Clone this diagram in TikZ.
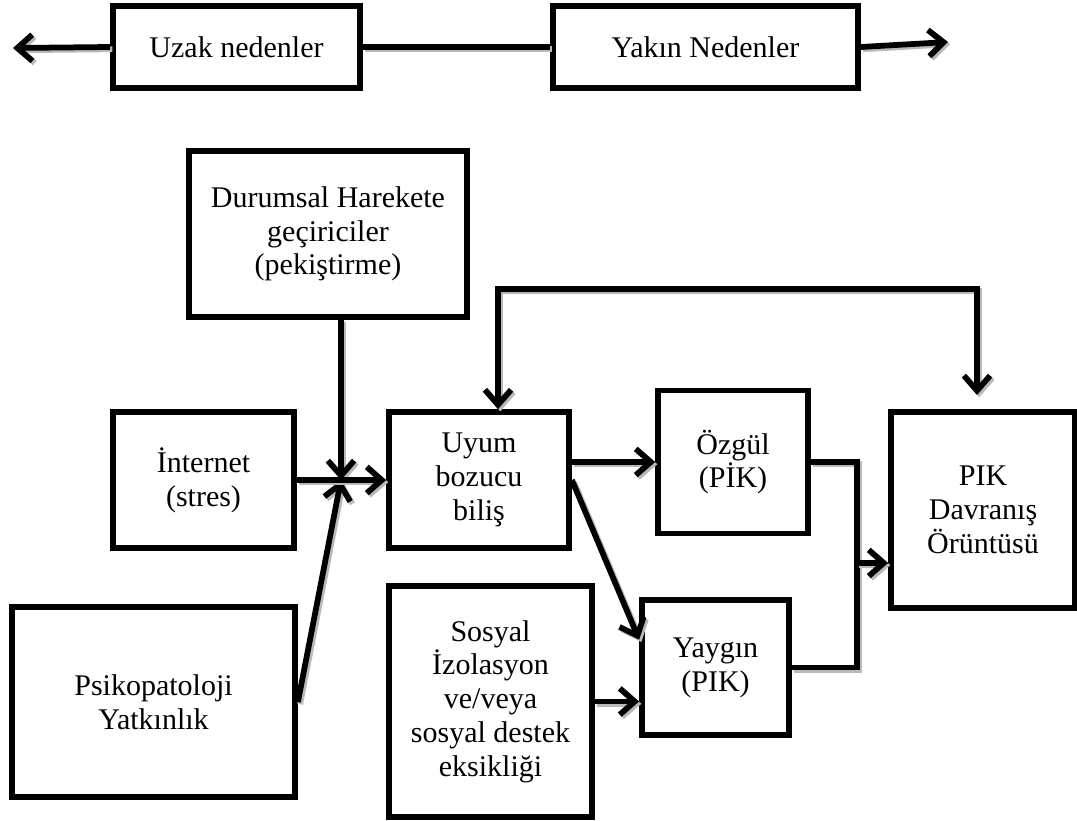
\documentclass[tikz,border=0pt]{standalone}
\usepackage{fontspec}
\setmainfont{Liberation Serif}
\usepackage{tikz}
\usetikzlibrary{arrows.meta,positioning,calc}

\begin{document}
\begin{tikzpicture}[x=0.4pt,y=-0.4pt,font=\fontsize{12pt}{13.5pt}\selectfont,
        >={Straight Barb[length=6pt,width=10.5pt]},
        kutu/.style 2 args={draw,line width=2.3pt,fill=white,align=center,inner sep=1pt,
                  minimum width=#1*0.4pt,minimum height=#2*0.4pt},
        hat/.style={line width=2.3pt,preaction={draw=gray!55,line width=2.3pt,
                  transform canvas={shift={(0.9pt,-0.9pt)}}}},
        ok/.style={hat,->}]
        \useasboundingbox (0,0) rectangle (1077,820);
        % zaman ekseni
        \node[kutu={247}{82}] (uzak) at (236.5,47) {Uzak nedenler};
        \node[kutu={305}{82}] (yakin) at (705.5,47) {Yakın Nedenler};
        \coordinate (soluc) at (13,48);
        \coordinate (saguc) at (948,42);
        \draw[ok] (uzak.west) -- (soluc);
        \draw[hat] (uzak.east) -- (yakin.west);
        \draw[ok] (yakin.east) -- (saguc);
        % kutular
        \node[kutu={278}{166}] (durum) at (328,234) {Durumsal Harekete\\geçiriciler\\(pekiştirme)};
        \node[kutu={181}{136}] (internet) at (203.5,480) {İnternet\\(stres)};
        \node[kutu={283}{190}] (psiko) at (153.5,702) {Psikopatoloji\\Yatkınlık};
        \node[kutu={180}{136}] (uyum) at (479,480) {Uyum\\bozucu\\biliş};
        \node[kutu={203}{231}] (sosyal) at (490.5,701.5) {Sosyal\\İzolasyon\\ve/veya\\sosyal destek\\eksikliği};
        \node[kutu={150}{143}] (ozgul) at (733,462) {Özgül\\(PİK)};
        \node[kutu={147}{135}] (yaygin) at (715.5,667.5) {Yaygın\\(PIK)};
        \node[kutu={184}{196}] (pik) at (983,510) {PIK\\Davranış\\Örüntüsü};
        % oklar
        \coordinate (kesisim) at (341,480);
        \draw[ok] (kesisim |- durum.south) -- (kesisim);
        \draw[ok] (psiko.east) -- (kesisim);
        \draw[ok] (internet.east) -- (uyum.west);
        \draw[ok] (uyum.east |- ozgul.west) -- (ozgul.west);
        \draw[ok] (uyum.east) -- (yaygin.160);
        \draw[ok] (sosyal.east) -- (sosyal.east -| yaygin.west);
        \coordinate (birles) at (857,563);
        \draw[hat] (ozgul.east) -| (birles) |- (yaygin.east);
        \draw[ok] (birles) -- (birles -| pik.west);
        % geri bildirim
        \coordinate (gbsol) at (498,289);
        \coordinate (gbsag) at (977,289);
        \coordinate (gbuc) at (977,395);
        \draw[hat,<->] (gbsol |- uyum.north) -- (gbsol) -- (gbsag) -- (gbuc);
\end{tikzpicture}
\end{document}
